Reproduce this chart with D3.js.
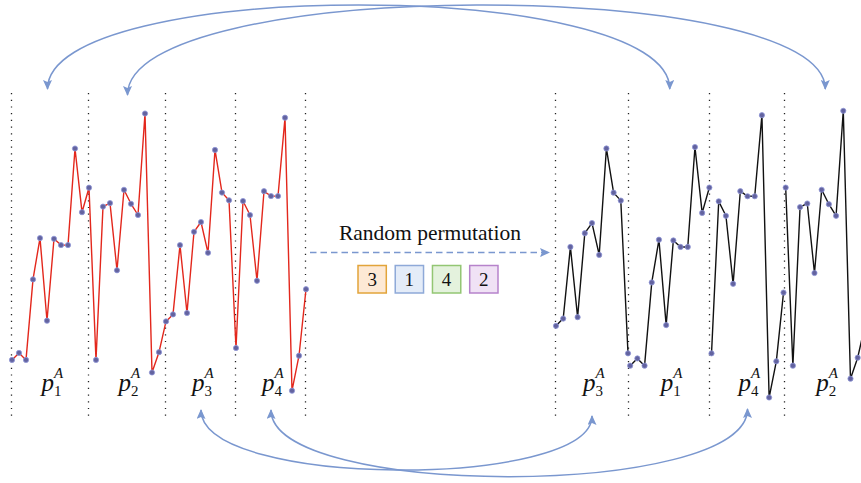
<!DOCTYPE html>
<html>
<head>
<meta charset="utf-8">
<script src="https://cdn.jsdelivr.net/npm/d3@7"></script>
<style>
    body { margin: 0; background: #fff; }
    svg { display: block; }
</style>
</head>
<body>
<svg id="chart" width="861" height="483"></svg>
<script>
// series values (one value per time step)
var series = [-1.57, -1.47, -1.57, -0.42, 0.17, -1.01, 0.16, 0.07, 0.07, 1.45, 0.54,
    0.89, -1.57, 0.62, 0.67, -0.29, 0.86, 0.66, 0.50, 1.95, -1.75, -1.46,
    -1.02, -0.92, 0.07, -0.90, 0.26, 0.40, -0.04, 1.43, 0.82, 0.71,
    -1.40, 0.70, 0.50, -0.44, 0.84, 0.77, 0.77, 1.89, -2.01, -1.51, -0.56];

// segment boundaries (indices into series, end shared with next start)
var segStart = [0, 11, 22, 32];
var segEnd = [11, 22, 32, 42];
var segNames = ["1", "2", "3", "4"];

// permuted order of segments
var permutation = [3, 1, 4, 2];
var boxFill = ["#fde9d5", "#e4ecf8", "#e4f2dd", "#f0e2f5"];
var boxStroke = ["#e2a43a", "#8ea9d8", "#93c673", "#b683cb"];

var title = "Random permutation";

var svg = d3.select("#chart");
var arrowColor = "#7a97cf";

var defs = svg.append("defs");
defs.append("marker")
    .attr("id", "head")
    .attr("markerUnits", "userSpaceOnUse")
    .attr("viewBox", "0 0 10 9")
    .attr("refX", 9)
    .attr("refY", 4.5)
    .attr("markerWidth", 10)
    .attr("markerHeight", 9)
    .attr("orient", "auto-start-reverse")
    .append("path")
    .attr("d", "M0,0 L10,4.5 L0,9 L2,4.5 Z")
    .attr("fill", arrowColor);

// scales
var xLeft = d3.scaleLinear().domain([0, 42]).range([12, 306]);
var yLeft = d3.scaleLinear().domain([-2, 2]).range([390, 110]);
var yRight = d3.scaleLinear().domain([-2, 2]).range([396.8, 107.2]);
var step = 7.2;
var gap = 0.3;

// right panel positions: segments laid one after another in permuted order
var rightSegs = [];
var pos = 0;
for (var k = 0; k < permutation.length; k++) {
    var s = permutation[k] - 1;
    var n = segEnd[s] - segStart[s];
    rightSegs.push({ seg: s, from: pos, to: pos + n });
    pos += n + gap;
}
var xRight = d3.scaleLinear().domain([0, 1]).range([556, 556 + step]);

var dotLine = function (x) {
    svg.append("line")
        .attr("x1", x).attr("x2", x)
        .attr("y1", 93).attr("y2", 416)
        .attr("stroke", "#222")
        .attr("stroke-width", 1.3)
        .attr("stroke-dasharray", "1.2,5.5");
};

// dotted separators
var leftBounds = segStart.concat([segEnd[segEnd.length - 1]]);
leftBounds.forEach(function (i) { dotLine(Math.round(xLeft(i)) - 0.5); });
rightSegs.forEach(function (r, k) {
    var x = k == 0 ? xRight(r.from) : (xRight(rightSegs[k - 1].to) + xRight(r.from)) / 2;
    dotLine(Math.round(x) - 0.5);
});

function drawSegment(pts, color) {
    svg.append("path")
        .datum(pts)
        .attr("fill", "none")
        .attr("stroke", color)
        .attr("stroke-width", 1.4)
        .attr("stroke-linejoin", "round")
        .attr("d", d3.line().x(function (d) { return d.x; }).y(function (d) { return d.y; }));
}

function drawPoints(pts) {
    svg.append("g").selectAll("circle")
        .data(pts)
        .enter().append("circle")
        .attr("cx", function (d) { return d.x; })
        .attr("cy", function (d) { return d.y; })
        .attr("r", 2.6)
        .attr("fill", "#63639f")
        .attr("stroke", "#8f97d8")
        .attr("stroke-width", 0.8);
}

// left series (red)
var leftPts = series.map(function (v, i) { return { x: xLeft(i), y: yLeft(v) }; });
drawSegment(leftPts, "#e3271c");
drawPoints(leftPts);

// right series (black, permuted)
var rightPtsAll = [];
rightSegs.forEach(function (r) {
    var pts = [];
    for (var i = segStart[r.seg]; i <= segEnd[r.seg]; i++) {
        pts.push({ x: xRight(r.from + i - segStart[r.seg]), y: yRight(series[i]) });
    }
    drawSegment(pts, "#111");
    rightPtsAll = rightPtsAll.concat(pts);
});
drawPoints(rightPtsAll);

// labels p_i^A
function label(cx, name) {
    var t = svg.append("text")
        .attr("x", cx - 9)
        .attr("y", 391)
        .attr("font-family", "Liberation Serif, serif")
        .attr("font-style", "italic")
        .attr("fill", "#111");
    t.append("tspan").attr("font-size", 25).text("p");
    t.append("tspan").attr("font-size", 15).attr("font-style", "normal")
        .attr("dy", 5).text(name);
    t.append("tspan").attr("font-size", 15).attr("dx", -7.5).attr("dy", -18).text("A");
}

var leftCenter = segStart.map(function (s, k) { return (xLeft(s) + xLeft(segEnd[k])) / 2; });
var rightCenter = [];
rightSegs.forEach(function (r) { rightCenter[r.seg] = (xRight(r.from) + xRight(r.to)) / 2; });
segNames.forEach(function (nm, k) {
    label(leftCenter[k], nm);
    label(rightCenter[k], nm);
});

// curved double arrows between a segment and its new place
function arc(x1, y1, x2, y2, c) {
    var p = d3.path();
    p.moveTo(x1, y1);
    p.bezierCurveTo(x1, c, x2, c, x2, y2);
    svg.append("path")
        .attr("d", p.toString())
        .attr("fill", "none")
        .attr("stroke", arrowColor)
        .attr("stroke-width", 1.5)
        .attr("marker-start", "url(#head)")
        .attr("marker-end", "url(#head)");
}
arc(leftCenter[0] - 3, 89, rightCenter[0], 89, -23);
arc(leftCenter[1], 95, rightCenter[1], 89, -24);
arc(leftCenter[2], 410, rightCenter[2], 416, 489);
arc(leftCenter[3], 410, rightCenter[3], 409, 499);

// middle: title, dashed arrow, permutation boxes
svg.append("text")
    .attr("x", 430)
    .attr("y", 240)
    .attr("text-anchor", "middle")
    .attr("font-family", "Liberation Serif, serif")
    .attr("font-size", 21.5)
    .attr("fill", "#111")
    .text(title);

svg.append("line")
    .attr("x1", 310).attr("x2", 549)
    .attr("y1", 252.5).attr("y2", 252.5)
    .attr("stroke", arrowColor)
    .attr("stroke-width", 1.5)
    .attr("stroke-dasharray", "6.5,4")
    .attr("marker-end", "url(#head)");

var boxX = d3.scaleBand().domain(permutation).range([358, 498]).paddingInner(0.24);
var boxes = svg.append("g").selectAll("g")
    .data(permutation)
    .enter().append("g")
    .attr("transform", function (d) { return "translate(" + boxX(d) + ",265.5)"; });
boxes.append("rect")
    .attr("width", boxX.bandwidth())
    .attr("height", 27.5)
    .attr("fill", function (d, i) { return boxFill[i]; })
    .attr("stroke", function (d, i) { return boxStroke[i]; })
    .attr("stroke-width", 1.5);
boxes.append("text")
    .attr("x", boxX.bandwidth() / 2)
    .attr("y", 20.5)
    .attr("text-anchor", "middle")
    .attr("font-family", "Liberation Serif, serif")
    .attr("font-size", 19)
    .attr("fill", "#111")
    .text(function (d) { return d; });
</script>
</body>
</html>
